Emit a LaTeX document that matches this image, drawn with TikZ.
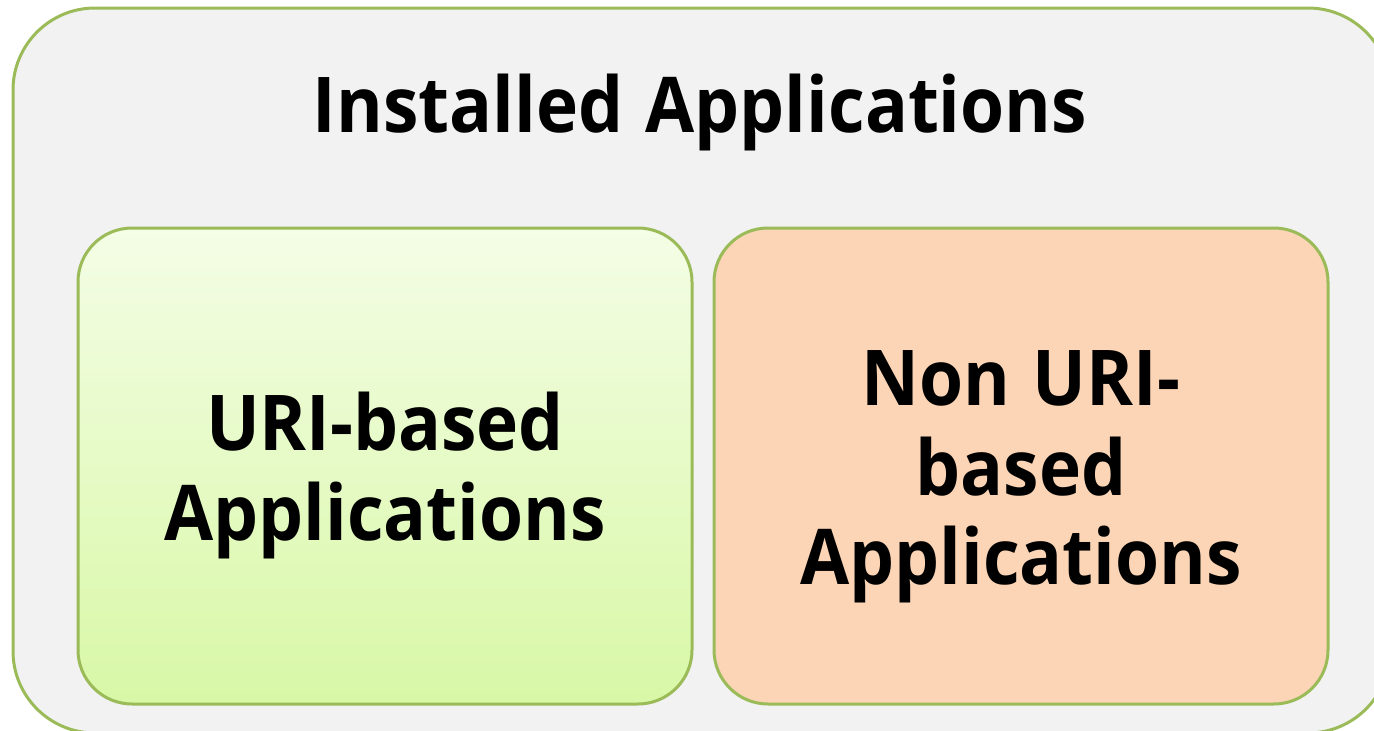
\documentclass[tikz,border=0pt]{standalone}
\usepackage{fontspec}
\setmainfont{Open Sans}[BoldFont={* Bold}, BoldFeatures={FakeStretch=0.925}]
\definecolor{bordergreen}{RGB}{155,187,89}
\definecolor{outerfill}{RGB}{242,242,242}
\definecolor{greentop}{RGB}{244,253,230}
\definecolor{greenbot}{RGB}{216,248,166}
\definecolor{peach}{RGB}{251,213,181}
\tikzset{
  panel/.style={draw=bordergreen, line width=3pt, inner sep=0pt},
  txt/.style={anchor=base, inner sep=0pt, font=\fontsize{77}{90}\selectfont\bfseries}
}
\begin{document}
\begin{tikzpicture}[x=1pt,y=-1pt]
\useasboundingbox (0,0) rectangle (1374,731);
\clip (0,0) rectangle (1374,731);
\node[panel, fill=outerfill, rounded corners=82pt, minimum width=1377pt, minimum height=725pt] (outer) at (701.5,370.5) {};
\node[panel, top color=greentop, bottom color=greenbot, rounded corners=54pt, minimum width=614pt, minimum height=476pt] (uri) at (385,466) {};
\node[panel, fill=peach, rounded corners=54pt, minimum width=614pt, minimum height=476pt] (nonuri) at (1021,466) {};
\node[txt] (title) at (700,132) {Installed\hspace{4pt} Applications};
\node[txt] (u1) at (385,450) {URI-based};
\node[txt] (u2) at (385,540) {Applications};
\node[txt] (n1) at (1021,405) {Non\hspace{4pt} URI-};
\node[txt] (n2) at (1021,495) {based};
\node[txt] (n3) at (1021,584) {Applications};
\end{tikzpicture}
\end{document}
